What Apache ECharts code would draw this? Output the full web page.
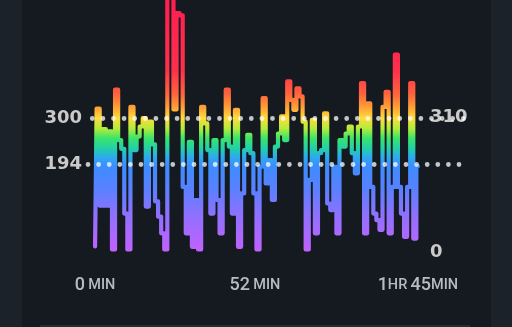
<!DOCTYPE html>
<html>
<head>
<meta charset="utf-8">
<script src="https://cdn.jsdelivr.net/npm/echarts@6/dist/echarts.min.js"></script>
<style>
  html, body { margin: 0; padding: 0; background: #151a20; }
  #chart { width: 512px; height: 327px; }
</style>
</head>
<body>
<div id="chart"></div>
<script>
// Ride power, one sample per minute (watts)
const minutes = [];
for (let m = 0; m <= 105; m++) minutes.push(m);

const power = [
  7, 322, 100, 275, 100, 270, 0, 365, 250, 230,
  82, 0, 326, 227, 258, 281, 300, 98, 292, 240,
  110, 75, 37, 0, 600, 590, 320, 540, 535, 143,
  37, 246, 6, 113, 0, 326, 288, 227, 82, 250,
  113, 37, 250, 365, 235, 82, 319, 6, 128, 227,
  262, 220, 128, 0, 189, 346, 151, 204, 113, 235,
  265, 304, 250, 384, 342, 319, 368, 350, 292, 0,
  159, 296, 37, 220, 227, 311, 105, 90, 189, 37,
  250, 235, 265, 281, 220, 174, 281, 380, 37, 334,
  143, 82, 67, 45, 326, 360, 37, 143, 445, 143,
  82, 29, 143, 380, 25, 190
];

// Reference levels: FTP and average power
const ftp = 300;
const avgPower = 194;

// Left axis tick labels, right axis tick labels, time tick labels
const leftTicks = [avgPower, ftp];
const rightTicks = [0, 310];
const timeTicks = [0, 52, 105];
const timeTickText = {
  0: '{n|0} {u|MIN}',
  52: '{n|52} {u|MIN}',
  105: '{n|1}{u|HR} {n|45}{u|MIN}'
};

const seriesData = minutes.map((m, i) => [m, power[i]]);

const chart = echarts.init(document.getElementById('chart'), null, { renderer: 'canvas' });

const rainbow = new echarts.graphic.LinearGradient(0, 0, 0, 263, [
  { offset: 0.00, color: '#ff1e50' },
  { offset: 0.27, color: '#ff2f4c' },
  { offset: 0.36, color: '#ff663c' },
  { offset: 0.41, color: '#ffa236' },
  { offset: 0.45, color: '#ffdc3c' },
  { offset: 0.49, color: '#b0ec3c' },
  { offset: 0.525, color: '#3ce46a' },
  { offset: 0.565, color: '#22d0a8' },
  { offset: 0.60, color: '#2ea8f0' },
  { offset: 0.632, color: '#3d8cff' },
  { offset: 0.72, color: '#5a80ff' },
  { offset: 0.82, color: '#9070ff' },
  { offset: 0.95, color: '#bf62ff' },
  { offset: 1.00, color: '#c862ff' }
], true);

const numFont = { fontFamily: 'DejaVu Sans', fontWeight: 'bold', fontSize: 18, color: '#cacaca' };

chart.setOption({
  backgroundColor: '#151a20',
  animation: false,
  graphic: [
    { type: 'rect', left: 0, top: 0, shape: { width: 22, height: 327 }, style: { fill: '#1c2229' }, z: -10 },
    { type: 'rect', right: 0, top: 0, shape: { width: 21, height: 327 }, style: { fill: '#1c2229' }, z: -10 },
    { type: 'rect', left: 40, top: 325, shape: { width: 430, height: 2 }, style: { fill: '#262c33' }, z: -10 }
  ],
  grid: { left: 88, right: 44, top: 0, bottom: 64.4, containLabel: false },
  xAxis: {
    type: 'value',
    min: -2.3,
    max: 121.3,
    axisLine: { show: false },
    axisTick: { show: false },
    splitLine: { show: false },
    axisLabel: {
      customValues: timeTicks,
      margin: 14,
      formatter: v => timeTickText[v] || '',
      rich: {
        n: { fontFamily: 'Roboto', fontWeight: 500, fontSize: 18, color: '#b8bcc0' },
        u: { fontFamily: 'Roboto', fontWeight: 500, fontSize: 14.5, color: '#b8bcc0' }
      }
    }
  },
  yAxis: [
    {
      type: 'value',
      position: 'left',
      min: -30,
      max: 570,
      axisLine: { show: false },
      axisTick: { show: false },
      splitLine: { show: false },
      axisLabel: Object.assign({ customValues: leftTicks, margin: 6 }, numFont)
    },
    {
      type: 'value',
      position: 'right',
      offset: -38,
      min: -24.3,
      max: 578.7,
      axisLine: { show: false },
      axisTick: { show: false },
      splitLine: { show: false },
      axisLabel: Object.assign({ customValues: rightTicks, margin: 0 }, numFont)
    }
  ],
  series: [
    {
      type: 'line',
      step: 'middle',
      data: seriesData,
      yAxisIndex: 0,
      showSymbol: false,
      symbol: 'none',
      lineStyle: { width: 4.2, color: rainbow, cap: 'round', join: 'round' },
      markLine: {
        silent: true,
        symbol: 'none',
        label: { show: false },
        animation: false,
        lineStyle: { color: 'rgba(255,255,255,0.75)', width: 4.8, type: [0, 10.6], cap: 'round' },
        data: [
          { yAxis: ftp, lineStyle: { dashOffset: 6.3 } },
          { yAxis: avgPower, lineStyle: { dashOffset: 0 } }
        ]
      }
    }
  ]
});
</script>
</body>
</html>
